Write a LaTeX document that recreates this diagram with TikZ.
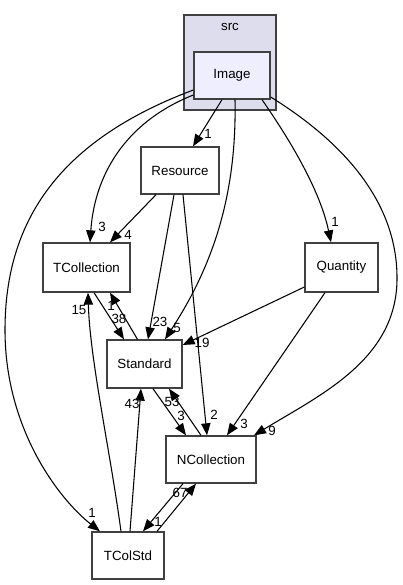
\documentclass[tikz,border=0pt]{standalone}
\usepackage{fontspec}
\setmainfont{Liberation Sans}
\usetikzlibrary{calc,arrows.meta}
\newlength\pxu
\setlength\pxu{0.75pt}
\definecolor{clusterfill}{HTML}{DDDDEE}
\definecolor{imgfill}{HTML}{EEEEFF}
\definecolor{boxline}{HTML}{404040}
\begin{document}
\begin{tikzpicture}[x=0.75pt,y=-0.75pt,
  dirbox/.style={draw=boxline,line width=1pt,fill=white,inner sep=0pt,
    minimum height=47\pxu,font=\fontsize{10}{12}\selectfont},
  dep/.style={draw=black,line width=0.8pt,-{Triangle[length=9pt,width=7pt]}},
  lbl/.style={inner sep=0pt,font=\fontsize{10}{12}\selectfont}]
\useasboundingbox[fill=white] (0,0) rectangle (403,585);
% cluster
\node[draw=boxline,line width=1pt,fill=clusterfill,minimum width=92\pxu,minimum height=95\pxu,inner sep=0pt] (src) at (230,62.5) {};
\node[lbl] (srclabel) at (230,27) {src};
% nodes
\node[dirbox,fill=imgfill,minimum width=76\pxu] (Image) at (232,75.5) {Image};
\node[dirbox,minimum width=78\pxu] (Resource) at (180,170.5) {Resource};
\node[dirbox,minimum width=87\pxu,minimum height=49\pxu] (TCollection) at (86.5,267.5) {TCollection};
\node[dirbox,minimum width=73\pxu,minimum height=49\pxu] (Quantity) at (341.5,267.5) {Quantity};
\node[dirbox,minimum width=75\pxu,minimum height=48\pxu] (Standard) at (144.5,364) {Standard};
\node[dirbox,minimum width=90\pxu] (NCollection) at (211,459.5) {NCollection};
\node[dirbox,minimum width=72\pxu] (TColStd) at (128,555.5) {TColStd};
% edges
\draw[dep] ($(Image.south)+(-10,0)$) -- ($(Resource.north)+(13,0)$);
\draw[dep] ($(Image.west)+(0,19.5)$) .. controls (130,120) and (95,170) .. ($(TCollection.north)+(3.5,0)$);
\draw[dep] ($(Resource.south)+(-24,0)$) -- ($(TCollection.north)+(23.5,0)$);
\draw[dep] ($(Image.south)+(3,0)$) .. controls (237,200) and (210,270) .. ($(Standard.north)+(20.5,0)$);
\draw[dep] ($(Resource.south)+(-6,0)$) -- ($(Standard.north)+(3.5,0)$);
\draw[dep] ($(Resource.south)+(3,0)$) -- ($(NCollection.north)+(-4,0)$);
\draw[dep] ($(Image.south)+(30,0)$) .. controls (290,140) and (320,190) .. ($(Quantity.north)+(-10.5,0)$);
\draw[dep] ($(Image.east)+(0,21.5)$) .. controls (340,140) and (398,200) .. (397,280) .. controls (396,360) and (320,395) .. ($(NCollection.north)+(43,0)$);
\draw[dep] ($(Image.west)+(0,14.5)$) .. controls (60,140) and (5,220) .. (5,330) .. controls (5,430) and (60,500) .. ($(TColStd.north)+(-28,0)$);
\draw[dep] ($(Quantity.west)+(0,19.5)$) -- ($(Standard.east)+(0,-19)$);
\draw[dep] ($(Quantity.south)+(-16.5,0)$) -- ($(NCollection.north)+(16,0)$);
\draw[dep] ($(TCollection.south)+(7.5,0)$) -- ($(Standard.north)+(-20.5,0)$);
\draw[dep] ($(Standard.north)+(-7,0)$) -- ($(TCollection.south)+(23.5,0)$);
\draw[dep] ($(TColStd.north)+(-7,0)$) .. controls (110,450) and (90,360) .. ($(TCollection.south)+(1.5,0)$);
\draw[dep] ($(TColStd.north)+(2,0)$) -- ($(Standard.south)+(-3.5,0)$);
\draw[dep] ($(Standard.south)+(8.5,0)$) -- ($(NCollection.north)+(-25,0)$);
\draw[dep] ($(NCollection.north)+(-10,0)$) -- ($(Standard.south)+(24.5,0)$);
\draw[dep] ($(TColStd.north)+(29,0)$) -- ($(NCollection.south)+(-15,0)$);
\draw[dep] ($(NCollection.south)+(-28,0)$) -- ($(TColStd.north)+(15,0)$);
% labels
\node[lbl] (l1) at (208,134) {1};
\node[lbl] (l2) at (102,227) {3};
\node[lbl] (l3) at (128,235) {4};
\node[lbl] (l4) at (177,328) {5};
\node[lbl] (l5) at (160,322) {23};
\node[lbl] (l6) at (214,415) {2};
\node[lbl] (l7) at (335,222) {1};
\node[lbl] (l8) at (272,431) {9};
\node[lbl] (l9) at (92,513) {1};
\node[lbl] (l10) at (202,343) {19};
\node[lbl] (l11) at (244,424) {3};
\node[lbl] (l12) at (119,319) {38};
\node[lbl] (l13) at (111,306) {1};
\node[lbl] (l14) at (79,310) {15};
\node[lbl] (l15) at (132,404) {43};
\node[lbl] (l16) at (181,416) {3};
\node[lbl] (l17) at (172,402) {53};
\node[lbl] (l18) at (180,493) {67};
\node[lbl] (l19) at (158,522) {1};
\end{tikzpicture}
\end{document}
